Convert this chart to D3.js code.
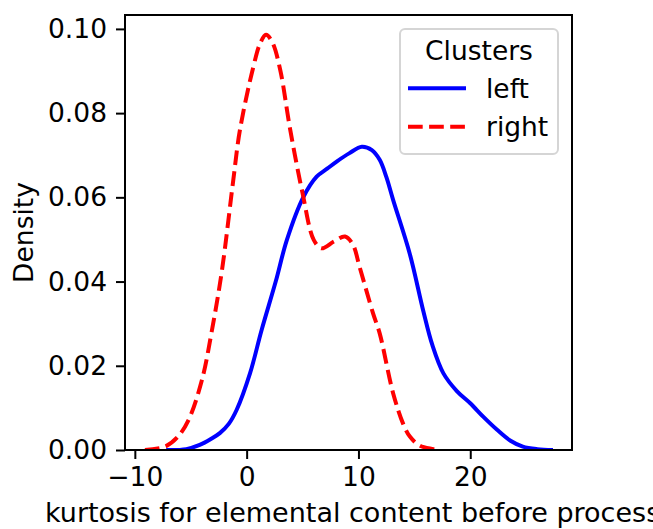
<!DOCTYPE html>
<html>
<head>
<meta charset="utf-8">
<script src="https://cdn.jsdelivr.net/npm/d3@7/dist/d3.min.js"></script>
<style>
  body { margin: 0; background: #fff; }
  text { font-family: "DejaVu Sans", sans-serif; }
</style>
</head>
<body>
<svg id="chart" width="653" height="529"></svg>
<script>
// KDE curves: [kurtosis, density]
var leftX = [-7.2, -5.4, -4.2, -3.2, -2.4, -1.6, -0.9, 0.3, 1.34, 2.6, 3.6, 5.06, 6.26, 7.2, 8.05, 9.2, 10.3, 11.2, 11.9, 12.5, 13.1, 14.6, 15.8, 16.6, 17.6, 18.8, 20.0, 21.2, 22.4, 23.6, 24.7, 26.0, 27.4];
var leftY = [0, 0.0002, 0.0012, 0.0026, 0.004, 0.0062, 0.0095, 0.0182, 0.0285, 0.040, 0.0499, 0.060, 0.0649, 0.0668, 0.0685, 0.0705, 0.0720, 0.0712, 0.0689, 0.0648, 0.0594, 0.0465, 0.0330, 0.025, 0.0182, 0.014, 0.0111, 0.0078, 0.0048, 0.0022, 0.0008, 0.0002, 0];

var rightX = [-9.1, -7.3, -6.2, -5.2, -4.0, -3.1, -2.2, -1.2, -0.6, 0.6, 1.2, 1.73, 2.3, 3.0, 3.9, 5.0, 6.0, 6.7, 7.8, 8.8, 9.5, 10.1, 11.3, 11.9, 13.1, 14.0, 14.6, 15.5, 16.7, 17.0];
var rightY = [0, 0.0008, 0.003, 0.0071, 0.0166, 0.0285, 0.0428, 0.064, 0.076, 0.091, 0.0965, 0.0986, 0.0968, 0.0903, 0.076, 0.061, 0.0499, 0.0479, 0.0495, 0.0507, 0.0488, 0.0435, 0.0325, 0.0277, 0.0135, 0.0062, 0.0032, 0.001, 0.0002, 0];

var xTicks = [-10, 0, 10, 20];
var yTicks = [0, 0.02, 0.04, 0.06, 0.08, 0.10];
var seriesNames = ["left", "right"];

var svg = d3.select("#chart");
var margin = {left: 125, top: 15, right: 81, bottom: 79};
var W = 653, H = 529;

var x = d3.scaleLinear().domain([-10.88, 29.1]).range([margin.left, W - margin.right]);
var y = d3.scaleLinear().domain([0, 0.1033]).range([H - margin.bottom, margin.top]);

var fs = 26.5;

// clip curves to the axes box
svg.append("clipPath").attr("id", "plotclip")
  .append("rect")
    .attr("x", margin.left).attr("y", margin.top)
    .attr("width", W - margin.right - margin.left)
    .attr("height", H - margin.bottom - margin.top);

// x axis
var xAxis = svg.append("g")
    .attr("transform", "translate(0," + (H - margin.bottom) + ")")
    .call(d3.axisBottom(x).tickValues(xTicks).tickSize(9).tickPadding(8).tickFormat(d3.format("d")));
// y axis
var yAxis = svg.append("g")
    .attr("transform", "translate(" + margin.left + ",0)")
    .call(d3.axisLeft(y).tickValues(yTicks).tickSize(9).tickPadding(9).tickFormat(d3.format(".2f")));

[xAxis, yAxis].forEach(function(a) {
  a.select(".domain").remove();
  a.selectAll(".tick line").attr("stroke", "#000").attr("stroke-width", 2);
  a.selectAll(".tick text").attr("fill", "#000").style("font-size", fs + "px");
});

// curves
var line = d3.line()
    .x(function(d) { return x(d[0]); })
    .y(function(d) { return y(d[1]); })
    .curve(d3.curveCatmullRom.alpha(0.5));

var leftData = leftX.map(function(v, i) { return [v, leftY[i]]; });
var rightData = rightX.map(function(v, i) { return [v, rightY[i]]; });

var curves = svg.append("g").attr("clip-path", "url(#plotclip)");

curves.append("path").datum(leftData)
    .attr("d", line).attr("fill", "none")
    .attr("stroke", "#0000ff").attr("stroke-width", 4);

curves.append("path").datum(rightData)
    .attr("d", line).attr("fill", "none")
    .attr("stroke", "#ff0000").attr("stroke-width", 4)
    .attr("stroke-dasharray", "14.7,6.4");

// frame
svg.append("rect")
    .attr("x", margin.left).attr("y", margin.top)
    .attr("width", W - margin.right - margin.left)
    .attr("height", H - margin.bottom - margin.top)
    .attr("fill", "none").attr("stroke", "#000").attr("stroke-width", 2);

// axis labels (the x label runs off the right edge, as in the original)
svg.append("text")
    .attr("x", 45).attr("y", 522)
    .style("font-size", "27px")
    .text("kurtosis for elemental content before process");

svg.append("text")
    .attr("transform", "translate(33," + ((margin.top + H - margin.bottom) / 2) + ") rotate(-90)")
    .attr("text-anchor", "middle")
    .style("font-size", fs + "px")
    .text("Density");

// legend
var lg = svg.append("g");
lg.append("rect")
    .attr("x", 400).attr("y", 29).attr("width", 158).attr("height", 125)
    .attr("rx", 5)
    .attr("fill", "#fff").attr("fill-opacity", 0.8)
    .attr("stroke", "#d5d5d5").attr("stroke-width", 2);
lg.append("text")
    .attr("x", 479).attr("y", 60)
    .attr("text-anchor", "middle")
    .style("font-size", fs + "px")
    .text("Clusters");

var legendColor = {left: "#0000ff", right: "#ff0000"};
seriesNames.forEach(function(name, i) {
  var ly = 88.3 + i * 38.4;
  lg.append("line")
      .attr("x1", 408).attr("x2", 466).attr("y1", ly).attr("y2", ly)
      .attr("stroke", legendColor[name]).attr("stroke-width", 4)
      .attr("stroke-dasharray", name === "right" ? "14.7,6.4" : null);
  lg.append("text")
      .attr("x", 486).attr("y", ly + 9.5)
      .style("font-size", fs + "px")
      .text(name);
});
</script>
</body>
</html>
